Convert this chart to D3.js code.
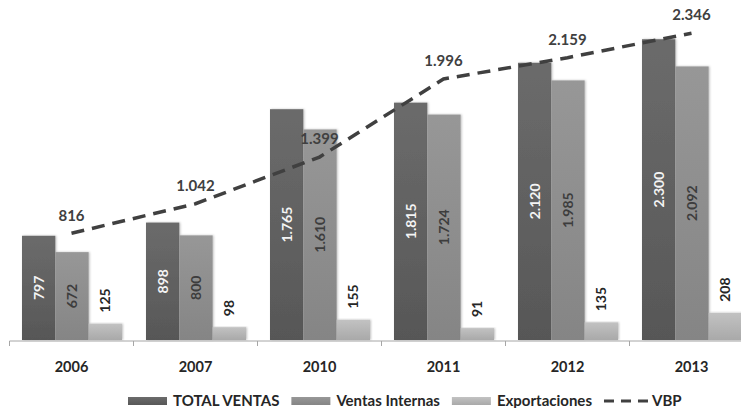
<!DOCTYPE html>
<html>
<head>
<meta charset="utf-8">
<script src="https://cdn.jsdelivr.net/npm/d3@7"></script>
<style>
  body { margin: 0; background: #fff; }
  svg { display: block; font-family: Lato, "Open Sans", sans-serif; }
</style>
</head>
<body>
<div id="chart"></div>
<script>
// data
var years = ["2006", "2007", "2010", "2011", "2012", "2013"];
var seriesNames = ["TOTAL VENTAS", "Ventas Internas", "Exportaciones"];
var totalVentas = [797, 898, 1765, 1815, 2120, 2300];
var ventasInternas = [672, 800, 1610, 1724, 1985, 2092];
var exportaciones = [125, 98, 155, 91, 135, 208];
var vbp = [816, 1042, 1399, 1996, 2159, 2346];

var width = 741, height = 408;
var es = d3.formatLocale({decimal: ",", thousands: ".", grouping: [3], currency: ["", ""]});
var fmt = es.format(",d");

var rows = years.map(function(y, i) {
  return {year: y, values: [totalVentas[i], ventasInternas[i], exportaciones[i]], vbp: vbp[i]};
});

var svg = d3.select("#chart").append("svg")
  .attr("width", width)
  .attr("height", height);

var defs = svg.append("defs");
var fills = [["#6b6b6b", "#575757"], ["#979797", "#858585"], ["#c2c2c2", "#a9a9a9"]];
fills.forEach(function(c, i) {
  var g = defs.append("linearGradient").attr("id", "g" + i)
    .attr("x1", 0).attr("y1", 0).attr("x2", 0).attr("y2", 1);
  g.append("stop").attr("offset", "0%").attr("stop-color", c[0]);
  g.append("stop").attr("offset", "100%").attr("stop-color", c[1]);
});
var f = defs.append("filter").attr("id", "shadow")
  .attr("x", "-20%").attr("y", "-5%").attr("width", "140%").attr("height", "110%");
f.append("feDropShadow").attr("dx", 1).attr("dy", 0).attr("stdDeviation", 0.8)
  .attr("flood-color", "#000").attr("flood-opacity", 0.25);

// scales
var x = d3.scaleBand().domain(years).range([9.5, 753.5]);
var x1 = d3.scaleBand().domain([0, 1, 2]).range([12.5, 112.5]);
var y = d3.scaleLinear().domain([0, 2600]).range([340, 0]);

// bars
var groups = svg.append("g").selectAll("g")
  .data(rows).join("g")
    .attr("transform", function(d) { return "translate(" + x(d.year) + ",0)"; });

groups.selectAll("rect")
  .data(function(d) { return d.values; })
  .join("rect")
    .attr("x", function(d, i) { return x1(i); })
    .attr("y", function(d) { return y(d); })
    .attr("width", x1.bandwidth())
    .attr("height", function(d) { return y(0) - y(d); })
    .attr("fill", function(d, i) { return "url(#g" + i + ")"; })
    .attr("filter", "url(#shadow)");

// value labels, rotated
groups.selectAll("text.val")
  .data(function(d) { return d.values; })
  .join("text")
    .attr("class", "val")
    .attr("transform", function(d, i) {
      var cx = x1(i) + x1.bandwidth() / 2;
      var cy = i < 2 ? (y(d) + y(0)) / 2 : y(d) - 11;
      return "translate(" + cx + "," + cy + ") rotate(-90)";
    })
    .attr("text-anchor", function(d, i) { return i < 2 ? "middle" : "start"; })
    .attr("dy", "0.35em")
    .attr("font-size", 14)
    .attr("font-weight", "bold")
    .attr("fill", function(d, i) { return i == 0 ? "#f4f4f4" : (i == 1 ? "#3d3d3d" : "#262626"); })
    .text(function(d) { return fmt(d); });

// x axis
var axis = svg.append("g").attr("transform", "translate(0,341)");
axis.append("line")
  .attr("x1", x.range()[0]).attr("x2", width)
  .attr("stroke", "#a6a6a6").attr("stroke-width", 1);
axis.selectAll("line.tick")
  .data(years).join("line")
    .attr("class", "tick")
    .attr("x1", function(d) { return x(d); })
    .attr("x2", function(d) { return x(d); })
    .attr("y1", 0).attr("y2", 5)
    .attr("stroke", "#a6a6a6");
axis.selectAll("text")
  .data(years).join("text")
    .attr("x", function(d) { return x(d) + x.bandwidth() / 2; })
    .attr("y", 26)
    .attr("dy", "0.35em")
    .attr("text-anchor", "middle")
    .attr("font-size", 14.5)
    .attr("font-weight", "bold")
    .attr("fill", "#262626")
    .text(function(d) { return d; });

// VBP line
var cx = function(d) { return x(d.year) + x.bandwidth() / 2; };
svg.append("path")
  .datum(rows)
  .attr("fill", "none")
  .attr("stroke", "#404040")
  .attr("stroke-width", 3.5)
  .attr("stroke-dasharray", "13,8")
  .attr("d", d3.line()
    .x(cx)
    .y(function(d) { return y(d.vbp); }));

svg.append("g").selectAll("text")
  .data(rows).join("text")
    .attr("x", cx)
    .attr("y", function(d) { return y(d.vbp) - 18; })
    .attr("dy", "0.35em")
    .attr("text-anchor", "middle")
    .attr("font-size", 15)
    .attr("font-weight", "bold")
    .attr("fill", "#404040")
    .text(function(d) { return fmt(d.vbp); });

// legend
var legend = svg.append("g").attr("transform", "translate(128,401)");
var lx = 0;
seriesNames.forEach(function(name, i) {
  legend.append("rect")
    .attr("x", lx).attr("y", -4).attr("width", 39).attr("height", 8)
    .attr("fill", "url(#g" + i + ")");
  var t = legend.append("text")
    .attr("x", lx + 45).attr("dy", "0.35em")
    .attr("font-size", 15)
    .attr("font-weight", "bold")
    .attr("fill", "#262626")
    .text(name);
  lx += 45 + t.node().getComputedTextLength() + 12;
});
legend.append("line")
  .attr("x1", lx).attr("x2", lx + 45)
  .attr("stroke", "#404040").attr("stroke-width", 3)
  .attr("stroke-dasharray", "10,7");
legend.append("text")
  .attr("x", lx + 48).attr("dy", "0.35em")
  .attr("font-size", 15)
  .attr("font-weight", "bold")
  .attr("fill", "#262626")
  .text("VBP");
</script>
</body>
</html>
